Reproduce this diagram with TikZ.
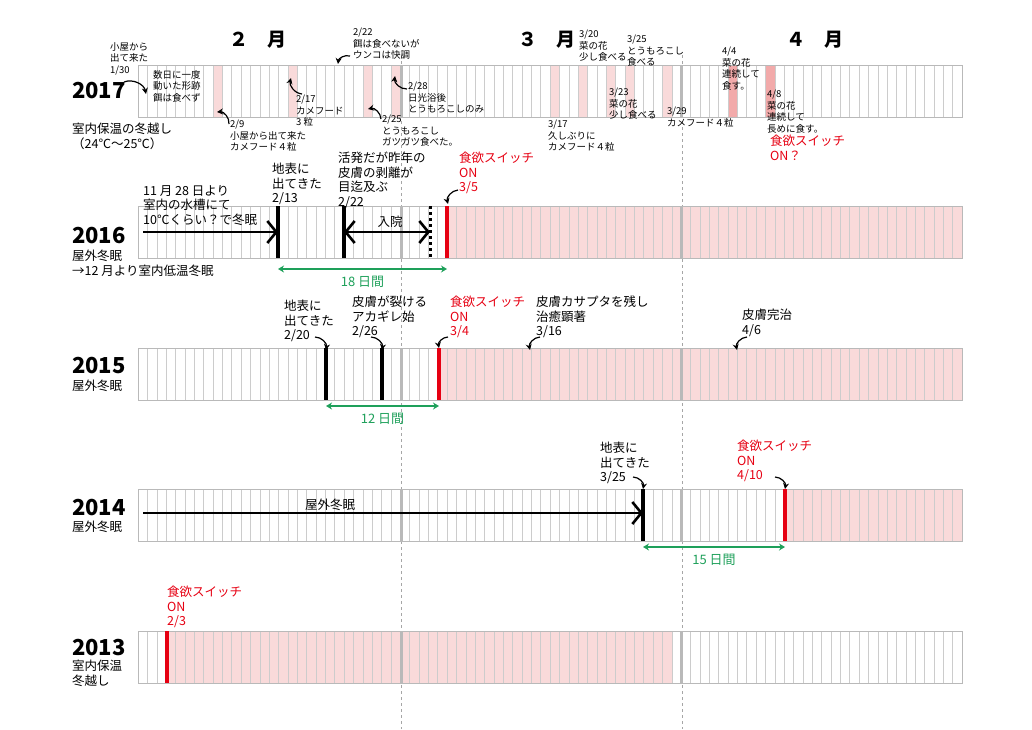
\documentclass[tikz,border=0pt]{standalone}
\usepackage{fontspec}
\setmainfont{Noto Sans CJK JP}
\usetikzlibrary{arrows.meta}
\definecolor{pinkbg}{RGB}{249,218,218}
\definecolor{pinkmd}{RGB}{242,170,170}
\definecolor{redsw}{RGB}{230,0,18}
\definecolor{greenint}{RGB}{30,160,90}
\tikzstyle{note} = [align=left, anchor=north west, inner sep=0pt, font=\fontsize{9.5}{11.5}\selectfont]
\tikzstyle{memo} = [align=left, anchor=north west, inner sep=0pt, font=\fontsize{12.5}{14.5}\selectfont]
\tikzstyle{redmemo} = [memo, text=redsw]
\tikzstyle{year} = [anchor=west, inner sep=0pt, font=\fontsize{22}{22}\bfseries\selectfont]
\tikzstyle{month} = [inner sep=0pt, font=\fontsize{19}{20}\bfseries\selectfont]
\tikzstyle{hook} = [->, >={Stealth[length=6pt,width=6pt]}, line width=1.2pt, bend right=50]
\tikzstyle{event} = [line width=3.2pt]
\tikzstyle{bigarrow} = [line width=2.6pt, ->, >={Straight Barb[length=9pt,width=22pt]}]
\tikzstyle{span} = [greenint, line width=1.3pt, <->, >={Stealth[length=6pt,width=7pt]}]
\tikzstyle{spanlbl} = [below=3pt, greenint, font=\fontsize{13}{15}\selectfont]
\newcommand{\daystrip}[3]{% top y, start and end of pink
  \fill[pinkbg] (#2,#1) rectangle (#3,#1+52);
  \foreach \i in {1,...,87} \draw[gray!40] (138+\i*9.364,#1) -- ++(0,52);
  \draw[gray!55, line width=3pt] (401,#1) -- ++(0,52) (681,#1) -- ++(0,52);
  \draw[gray!55, line width=0.8pt] (138,#1) rectangle (962,#1+52);
}
\begin{document}
\begin{tikzpicture}[x=1pt, y=-1pt]
    \useasboundingbox (0,0) rectangle (1032,729);
    \draw[gray!70, dashed] (401,55) -- (401,729) (682,55) -- (682,729);

    \node (m2) [month] at (258,40) {２　月};
    \node (m3) [month] at (547,40) {３　月};
    \node (m4) [month] at (815,40) {４　月};

    % 2017
    \foreach \c in {8,16,24,27,44,47,50,52,56} \fill[pinkbg] (138+\c*9.364,65) rectangle ++(9.364,52);
    \foreach \c in {63,67} \fill[pinkmd] (138+\c*9.364,65) rectangle ++(9.364,52);
    \daystrip{65}{962}{962}
    \node (y17) [year] at (72,91) {2017};
    \node (d17) [memo] at (72,123) {室内保温の冬越し\\（24℃〜25℃）};
    \node (n130) [note] at (110,42) {小屋から\\出て来た\\1/30};
    \node (n130b) [note] at (153,70) {数日に一度\\動いた形跡\\餌は食べず};
    \node (n209) [note] at (230,120) {2/9\\小屋から出て来た\\カメフード４粒};
    \node (n217) [note] at (296,95) {2/17\\カメフード\\3 粒};
    \node (n222) [note] at (353,28) {2/22\\餌は食べないが\\ウンコは快調};
    \node (n225) [note] at (382,115) {2/25\\とうもろこし\\ガツガツ食べた。};
    \node (n228) [note] at (408,82) {2/28\\日光浴後\\とうもろこしのみ};
    \node (n317) [note] at (548,120) {3/17\\久しぶりに\\カメフード４粒};
    \node (n320) [note] at (579,30) {3/20\\菜の花\\少し食べる};
    \node (n323) [note] at (609,88) {3/23\\菜の花\\少し食べる};
    \node (n325) [note] at (627,35) {3/25\\とうもろこし\\食べる};
    \node (n329) [note] at (667,107) {3/29\\カメフード４粒};
    \node (n404) [note] at (722,47) {4/4\\菜の花\\連続して\\食す。};
    \node (n408) [note] at (767,90) {4/8\\菜の花\\連続して\\長めに食す。};
    \node (s17) [redmemo] at (770,135) {食欲スイッチ\\ON？};
    \coordinate (f130) at (124,82);   \coordinate (t130) at (146,94);
    \coordinate (f209) at (229,124);  \coordinate (t209) at (217,112);
    \coordinate (f217) at (302,94);   \coordinate (t217) at (291,78);
    \coordinate (f222) at (350,56);   \coordinate (t222) at (338,64);
    \coordinate (f225) at (381,119);  \coordinate (t225) at (368,109);
    \coordinate (f228) at (407,89);   \coordinate (t228) at (395,76);
    \draw [hook, bend left=50] (f130) to (t130);
    \draw [hook] (f209) to (t209);
    \draw [hook, bend left=50] (f217) to (t217);
    \draw [hook] (f222) to (t222);
    \draw [hook] (f225) to (t225);
    \draw [hook, bend left=50] (f228) to (t228);

    % 2016
    \daystrip{206}{447}{962}
    \node (y16) [year] at (72,236) {2016};
    \node (d16) [memo] at (72,250) {屋外冬眠\\→12 月より室内低温冬眠};
    \node (w16) [memo] at (143,185) {11 月 28 日より\\室内の水槽にて\\10℃くらい？で冬眠};
    \node (e213) [memo] at (272,163) {地表に\\出てきた\\2/13};
    \node (e222) [memo] at (338,152) {活発だが昨年の\\皮膚の剥離が\\目迄及ぶ\\2/22};
    \node (h16) [memo, anchor=south] at (390,228) {入院};
    \node (s16) [redmemo] at (459,152) {食欲スイッチ\\ON\\3/5};
    \coordinate (b16) at (143,232);
    \coordinate (e16a) at (278,232);
    \coordinate (e16b) at (344,232);
    \coordinate (e16c) at (430,232);
    \coordinate (f16) at (458,190);
    \coordinate (r16) at (448,204);
    \draw [event] (278,206) -- (278,258);
    \draw [event] (344,206) -- (344,258);
    \draw [line width=3pt, dash pattern=on 3pt off 3pt] (430,206) -- (430,258);
    \draw [redsw, event] (447,206) -- (447,258);
    \draw [bigarrow] (b16) -- (e16a);
    \draw [bigarrow, <->] (e16b) -- (e16c);
    \draw [hook] (f16) to (r16);
    \draw [span] (278,269) -- node[spanlbl]{18 日間} (447,269);

    % 2015
    \daystrip{348}{439}{962}
    \node (y15) [year] at (72,366) {2015};
    \node (d15) [memo] at (72,380) {屋外冬眠};
    \node (e220) [memo] at (284,300) {地表に\\出てきた\\2/20};
    \node (e226) [memo] at (352,296) {皮膚が裂ける\\アカギレ始\\2/26};
    \node (s15) [redmemo] at (450,296) {食欲スイッチ\\ON\\3/4};
    \node (e316) [memo] at (536,296) {皮膚カサプタを残し\\治癒顕著\\3/16};
    \node (e406) [memo] at (742,309) {皮膚完治\\4/6};
    \coordinate (f220) at (315,337);  \coordinate (t220) at (326,350);
    \coordinate (f226) at (371,337);  \coordinate (t226) at (382,350);
    \coordinate (f15) at (448,337);   \coordinate (r15) at (439,348);
    \coordinate (f316) at (540,337);  \coordinate (t316) at (530,350);
    \coordinate (f406) at (747,337);  \coordinate (t406) at (737,350);
    \draw [event] (326,348) -- (326,400);
    \draw [event] (382,348) -- (382,400);
    \draw [redsw, event] (439,348) -- (439,400);
    \draw [hook, bend left=50] (f220) to (t220);
    \draw [hook, bend left=50] (f226) to (t226);
    \draw [hook] (f15) to (r15);
    \draw [hook] (f316) to (t316);
    \draw [hook] (f406) to (t406);
    \draw [span] (326,406) -- node[spanlbl]{12 日間} (439,406);

    % 2014
    \daystrip{489}{785}{962}
    \node (y14) [year] at (72,508) {2014};
    \node (d14) [memo] at (72,521) {屋外冬眠};
    \node (w14) [memo, anchor=south] at (330,511) {屋外冬眠};
    \node (e325) [memo] at (600,442) {地表に\\出てきた\\3/25};
    \node (s14) [redmemo] at (737,440) {食欲スイッチ\\ON\\4/10};
    \coordinate (b14) at (143,513);
    \coordinate (e14) at (643,513);
    \coordinate (f325) at (633,477);  \coordinate (t325) at (643,489);
    \coordinate (f14) at (775,477);   \coordinate (r14) at (785,489);
    \draw [event] (643,489) -- (643,541);
    \draw [redsw, event] (785,489) -- (785,541);
    \draw [bigarrow] (b14) -- (e14);
    \draw [hook, bend left=50] (f325) to (t325);
    \draw [hook, bend left=50] (f14) to (r14);
    \draw [span] (643,547) -- node[spanlbl]{15 日間} (785,547);

    % 2013
    \daystrip{631}{167}{673}
    \node (y13) [year] at (72,647) {2013};
    \node (d13) [memo] at (72,660) {室内保温\\冬越し};
    \node (s13) [redmemo] at (167,586) {食欲スイッチ\\ON\\2/3};
    \draw [redsw, event] (167,631) -- (167,683);
\end{tikzpicture}
\end{document}
